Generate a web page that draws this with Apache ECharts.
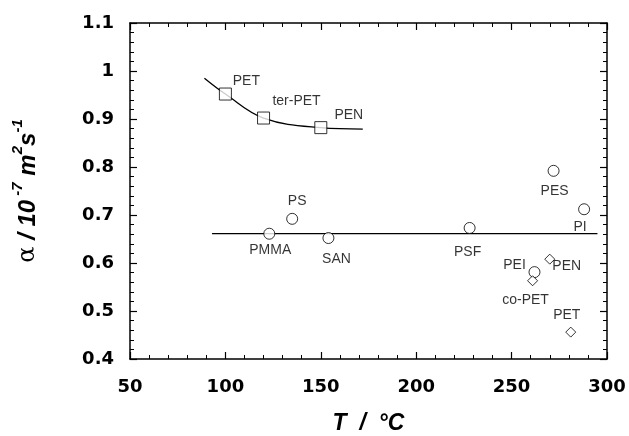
<!DOCTYPE html>
<html>
<head>
<meta charset="utf-8" />
<title></title>
<script src="https://cdn.jsdelivr.net/npm/echarts@6/dist/echarts.min.js"></script>
<style>
  html, body { margin: 0; padding: 0; background: #fff; }
  #container { width: 629px; height: 436px; }
</style>
</head>
<body>
<div id="container"></div>
<script>
// squares on the curve
var sqNames = ['PET', 'ter-PET', 'PEN'];
var sqT = [100, 120, 150];
var sqA = [0.952, 0.902, 0.882];
// curve drawn through the squares
var curveT = [89, 100, 120, 150, 172];
var curveA = [0.985, 0.952, 0.902, 0.882, 0.879];
// circles
var ciNames = ['PMMA', 'PS', 'SAN', 'PSF', 'PES', 'PI', 'PEI'];
var ciT = [123, 135, 154, 228, 272, 288, 262];
var ciA = [0.661, 0.692, 0.652, 0.673, 0.792, 0.712, 0.581];
// diamonds
var diNames = ['PEN', 'co-PET', 'PET'];
var diT = [270, 261, 281];
var diA = [0.608, 0.563, 0.456];
// flat line
var flatT = [93, 295];
var flatA = [0.661, 0.661];

// label offsets (px) from the marker centre
var sqOff = [[21, -13], [33, -17], [28, -12]];
var ciOff = [[1, 16], [5, -18], [8, 21], [-2, 24], [1, 20], [-4, 18], [-20, -7]];
var diOff = [[17, 7], [-7, 19], [-4, -17]];

function pts(xs, ys, names, offs) {
  return xs.map(function (x, i) {
    var p = { value: [x, ys[i]] };
    if (names) {
      p.name = names[i];
      p.label = { offset: offs[i] };
    }
    return p;
  });
}

var sans = 'Liberation Sans, Arial, sans-serif';
var labelStyle = {
  show: true,
  position: 'inside',
  formatter: '{b}',
  color: '#000',
  fontSize: 14,
  fontFamily: sans,
  align: 'center',
  verticalAlign: 'middle'
};
var markerStyle = { color: '#fff', borderColor: '#000', borderWidth: 1 };

var tickFont = { fontFamily: 'DejaVu Sans, sans-serif', fontWeight: 'bold', fontSize: 18, color: '#000' };

function xAx(pos, showLabel) {
  return {
    type: 'value', position: pos, min: 50, max: 300, interval: 50,
    axisLine: { show: true, onZero: false, lineStyle: { color: '#000', width: 1.5 } },
    axisTick: { show: true, inside: true, length: 7, lineStyle: { color: '#000', width: 1.2 } },
    minorTick: { show: true, splitNumber: 5, length: 4, lineStyle: { color: '#000', width: 1 } },
    splitLine: { show: false },
    axisLabel: Object.assign({ show: showLabel, margin: 19 }, tickFont),
    name: showLabel ? 'T  /  °C' : '',
    nameLocation: 'middle',
    nameGap: 65,
    nameMoveOverlap: false,
    nameTextStyle: { fontFamily: sans, fontSize: 23, fontWeight: 'bold', fontStyle: 'italic', color: '#000', verticalAlign: 'middle' }
  };
}
function yAx(pos, showLabel) {
  return {
    type: 'value', position: pos, min: 0.4, max: 1.1, interval: 0.1,
    axisLine: { show: true, onZero: false, lineStyle: { color: '#000', width: 1.5 } },
    axisTick: { show: true, inside: true, length: 7, lineStyle: { color: '#000', width: 1.2 } },
    minorTick: { show: true, splitNumber: 5, length: 4, lineStyle: { color: '#000', width: 1 } },
    splitLine: { show: false },
    axisLabel: Object.assign({ show: showLabel, margin: 16, formatter: function (v) { return String(Math.round(v * 10) / 10); } }, tickFont),
    name: showLabel ? '{a|α}{m| / 10}{s| -7}{m| m}{s|2}{m|s}{s|-1}' : '',
    nameLocation: 'middle',
    nameRotate: 90,
    nameGap: 90,
    nameTextStyle: {
      rich: {
        a: { fontFamily: 'DejaVu Serif, serif', fontSize: 24, color: '#000', lineHeight: 30, verticalAlign: 'bottom' },
        m: { fontFamily: sans, fontSize: 24, fontWeight: 'bold', fontStyle: 'italic', color: '#000', lineHeight: 30, verticalAlign: 'bottom' },
        s: { fontFamily: sans, fontSize: 15, fontWeight: 'bold', fontStyle: 'italic', color: '#000', lineHeight: 30, verticalAlign: 'top' }
      }
    }
  };
}

var myChart = echarts.init(document.getElementById('container'));
var option = {
  animation: false,
  backgroundColor: '#fff',
  grid: { left: 130, right: 22, top: 23, bottom: 77, outerBoundsMode: 'none' },
  xAxis: [xAx('bottom', true), xAx('top', false)],
  yAxis: [yAx('left', true), yAx('right', false)],
  series: [
    {
      type: 'line', smooth: 0.4, symbol: 'none', z: 1,
      data: pts(curveT, curveA),
      lineStyle: { color: '#000', width: 1.3 }
    },
    {
      type: 'line', symbol: 'none', z: 1,
      data: pts(flatT, flatA),
      lineStyle: { color: '#000', width: 1.3 }
    },
    {
      type: 'scatter', symbol: 'rect', symbolSize: 12, z: 3,
      itemStyle: markerStyle, label: labelStyle,
      data: pts(sqT, sqA, sqNames, sqOff)
    },
    {
      type: 'scatter', symbol: 'circle', symbolSize: 11, z: 3,
      itemStyle: markerStyle, label: labelStyle,
      data: pts(ciT, ciA, ciNames, ciOff)
    },
    {
      type: 'scatter', symbol: 'diamond', symbolSize: 10, z: 3,
      itemStyle: markerStyle, label: labelStyle,
      data: pts(diT, diA, diNames, diOff)
    }
  ]
};
myChart.setOption(option);
</script>
</body>
</html>
